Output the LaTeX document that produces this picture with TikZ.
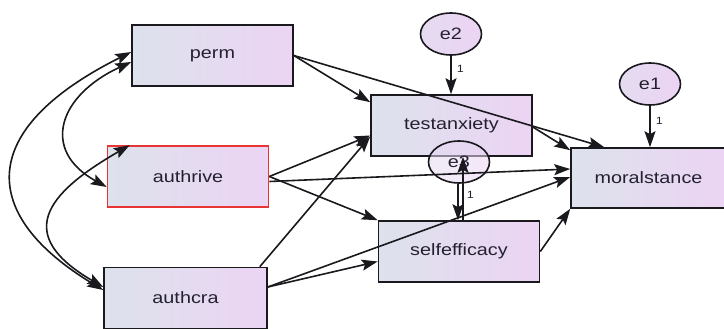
\documentclass[tikz,border=0pt]{standalone}
\usepackage{fontspec}
\setmainfont{Liberation Sans}
\newfontfamily\semfont{Liberation Sans}[FakeStretch=1.2]
\usetikzlibrary{arrows.meta,shapes.geometric}
\definecolor{semleft}{RGB}{221,226,236}
\definecolor{semright}{RGB}{236,212,244}
\definecolor{semline}{RGB}{25,25,30}
\definecolor{semred}{RGB}{232,52,52}
\definecolor{semtext}{RGB}{36,32,48}

\begin{document}
\begin{tikzpicture}[
    x=1pt, y=-1pt,
    semvar/.style = {draw=semline, line width=1.6pt, left color=semleft, right color=semright,
                     minimum width=161pt, minimum height=61pt, inner sep=0pt,
                     font=\semfont\fontsize{16.5}{18}\selectfont, text=semtext},
    semerr/.style = {ellipse, draw=semline, line width=1.6pt, left color=semleft!50!semright,
                     right color=semright, minimum width=61pt, minimum height=42pt, inner sep=0pt,
                     font=\semfont\fontsize{16.5}{18}\selectfont, text=semtext},
    semarr/.style = {-{Stealth[length=16pt,width=11pt,inset=3pt]}, line width=1.6pt, draw=semline},
    semcov/.style = {{Stealth[length=16pt,width=11pt,inset=3pt]}-{Stealth[length=16pt,width=11pt,inset=3pt]},
                     line width=1.6pt, draw=semline},
    semone/.style = {font=\semfont\fontsize{10.5}{12}\selectfont, text=semtext, inner sep=1pt}]

  \useasboundingbox (0,0) rectangle (724,329);

  %% ---- observed variables ------------------------------------------
  \node[semvar] (perm) at (212.5,55.5) {perm};
  \node[semvar, draw=semred] (authrive) at (188,176.5) {authrive};
  \node[semvar, minimum width=163pt] (authcra) at (185.5,298) {authcra};
  \node[semvar] (testanxiety) at (451.5,125.5) {testanxiety};
  \node[semvar] (selfefficacy) at (459,251.5) {selfefficacy};
  \node[semvar, minimum width=155pt, minimum height=60pt] (moralstance) at (648.5,178) {moralstance};

  %% ---- error terms -------------------------------------------------
  \node[semerr] (e2) at (451,34) {e2};
  \node[semerr] (e1) at (650,84) {e1};
  \node[semerr, fill opacity=0.55, text opacity=1] (e3) at (459,162) {e3};

  %% ---- regression paths --------------------------------------------
  \draw[semarr] (perm.east) -- ([yshift=-8pt]testanxiety.north west);
  \draw[semarr] (perm.east) -- ([xshift=34pt]moralstance.north west);
  \draw[semarr] (authrive.east) -- ([yshift=-10pt]testanxiety.west);
  \draw[semarr] (authrive.east) -- (selfefficacy.north west);
  \draw[semarr] ([yshift=-5pt]authrive.east) -- ([yshift=9pt]moralstance.west);
  \draw[semarr] ([xshift=-8pt]authcra.north east) -- ([yshift=-11pt]testanxiety.west);
  \draw[semarr] ([yshift=11pt]authcra.east) -- ([yshift=-10pt]selfefficacy.west);
  \draw[semarr] ([yshift=11pt]authcra.east) -- ([yshift=1pt]moralstance.west);
  \draw[semarr] ([yshift=-1.5pt]testanxiety.east) -- ([yshift=-3pt]moralstance.north west);
  \draw[semarr] (selfefficacy.east) -- (moralstance.south west);
  \draw[semarr] ([xshift=4pt]selfefficacy.north) -- ([xshift=11.5pt]testanxiety.south);

  %% ---- error loadings ----------------------------------------------
  \draw[semarr] (e2.south) -- (e2.south |- testanxiety.north)
    node[semone, pos=0.33, anchor=west, xshift=4pt] {1};
  \draw[semarr] (e1.south) -- (e1.south |- moralstance.north)
    node[semone, pos=0.36, anchor=west, xshift=4pt] {1};
  \draw[semarr] ([xshift=-1pt]e3.south) -- ([xshift=-1pt]selfefficacy.north)
    node[semone, pos=0.3, anchor=west, xshift=7pt] {1};

  %% ---- covariances -------------------------------------------------
  \draw[semcov] ([yshift=3.5pt]perm.west) .. controls +(-156,78) and +(-124,-75) .. ([yshift=8pt]authcra.west);
  \draw[semcov] ([yshift=-6.5pt]perm.west) .. controls +(-72,33) and +(-67,-37) .. ([yshift=-10.5pt]authrive.west);
  \draw[semcov] ([xshift=23pt]authrive.north west) .. controls +(-85,49) and +(-89,-52) .. ([yshift=11pt]authcra.west);
\end{tikzpicture}
\end{document}
